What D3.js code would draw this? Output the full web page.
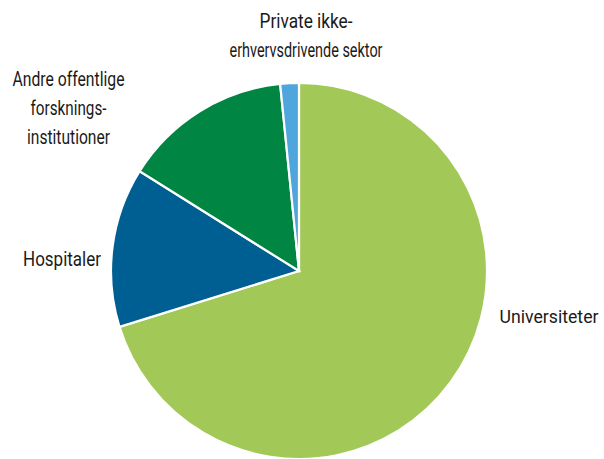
<!DOCTYPE html>
<html>
<head>
<meta charset="utf-8">
<script src="https://cdn.jsdelivr.net/npm/d3@7"></script>
<style>
  html, body { margin: 0; padding: 0; background: #fff; }
  text { font-family: Roboto, "Noto Sans", sans-serif; fill: #1a1a1a; }
</style>
</head>
<body>
<svg id="chart" width="604" height="459"></svg>
<script>
const categories = ["Universiteter", "Hospitaler", "Andre offentlige forsknings-institutioner", "Private ikke-erhvervsdrivende sektor"];
const values = [70.2, 13.7, 14.5, 1.6];
const colors = ["#a2c957", "#005f92", "#008542", "#4ea6dc"];
const labelLines = [["Universiteter"], ["Hospitaler"], ["Andre offentlige", "forsknings-", "institutioner"], ["Private ikke-", "erhvervsdrivende sektor"]];

const svg = d3.select("#chart");
const cx = 299, cy = 271, r = 188;
const data = categories.map((c, i) => ({ name: c, value: values[i], color: colors[i], lines: labelLines[i] }));

const pie = d3.pie().value(d => d.value).sort(null);
const arc = d3.arc().innerRadius(0).outerRadius(r);
const arcs = pie(data);

const g = svg.append("g").attr("transform", `translate(${cx},${cy})`);
g.selectAll("path").data(arcs).enter().append("path")
  .attr("d", arc)
  .attr("fill", d => d.data.color)
  .attr("stroke", "#fff")
  .attr("stroke-width", 2.2)
  .attr("stroke-linejoin", "miter");

// label layout: center x, first baseline y, font size, per-line widths
const labelPos = [
  { x: 549, y: 323, fs: 18.5, w: [99] },
  { x: 62, y: 266, fs: 20, w: [78] },
  { x: 68.5, y: 86, fs: 20, w: [112, 76, 83] },
  { x: 306, y: 28, fs: 20, w: [93, 153] }
];
const lineH = 29.2;
data.forEach((d, i) => {
  d.lines.forEach((ln, j) => {
    svg.append("text")
      .attr("x", labelPos[i].x)
      .attr("y", labelPos[i].y + j * lineH)
      .attr("text-anchor", "middle")
      .attr("font-size", labelPos[i].fs)
      .attr("textLength", labelPos[i].w[j])
      .attr("lengthAdjust", "spacingAndGlyphs")
      .text(ln);
  });
});
</script>
</body>
</html>
